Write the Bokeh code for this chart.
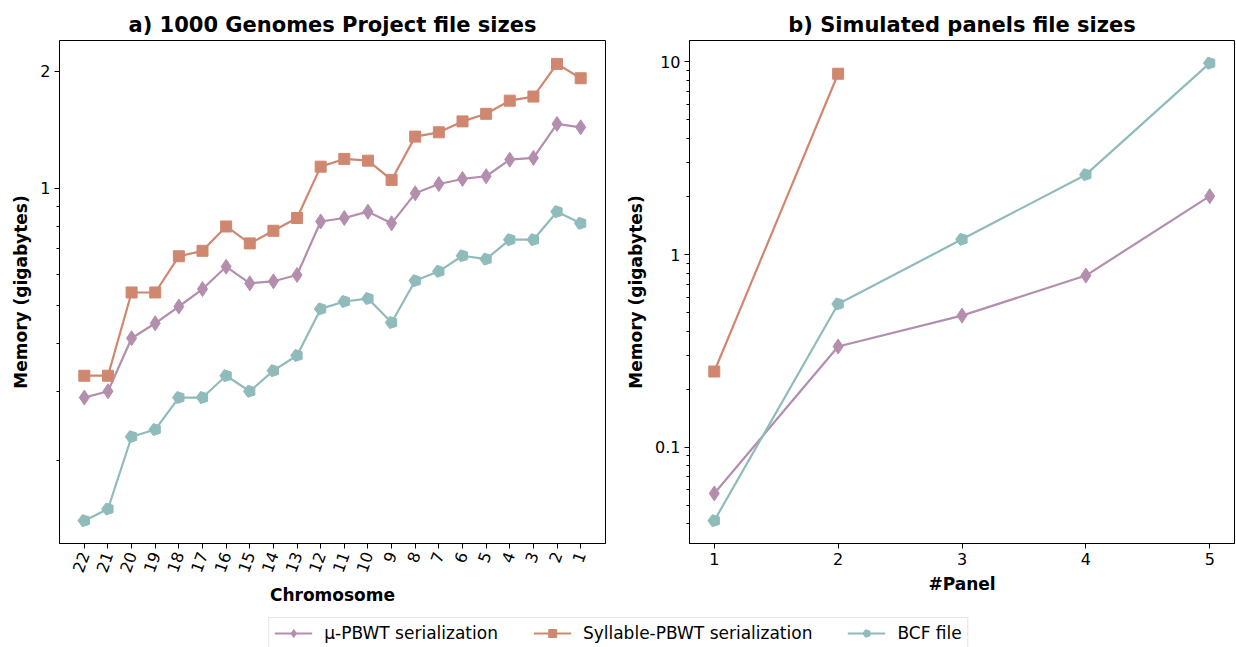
import numpy as np
from bokeh.plotting import figure
from bokeh.models import (FixedTicker, Range1d, Legend, LegendItem, BasicTickFormatter)
from bokeh.layouts import column, row
from bokeh.embed import file_html
from bokeh.resources import INLINE
from bokeh.core.properties import value

# ---------------- data ----------------
chromosomes = ["22", "21", "20", "19", "18", "17", "16", "15", "14", "13", "12",
               "11", "10", "9", "8", "7", "6", "5", "4", "3", "2", "1"]
mu_pbwt_1000g = [0.290, 0.301, 0.412, 0.450, 0.497, 0.551, 0.629, 0.570, 0.577, 0.599, 0.822,
                 0.839, 0.871, 0.813, 0.971, 1.026, 1.057, 1.074, 1.185, 1.197, 1.464, 1.435]
syllable_1000g = [0.330, 0.330, 0.540, 0.540, 0.669, 0.691, 0.798, 0.722, 0.778, 0.839, 1.137,
                  1.190, 1.178, 1.051, 1.358, 1.393, 1.486, 1.554, 1.680, 1.721, 2.088, 1.918]
bcf_1000g = [0.140, 0.150, 0.230, 0.240, 0.290, 0.290, 0.330, 0.301, 0.340, 0.372, 0.490,
             0.512, 0.521, 0.452, 0.579, 0.612, 0.671, 0.658, 0.738, 0.738, 0.871, 0.813]

panels = [1, 2, 3, 4, 5]
mu_pbwt_sim = [0.0575, 0.333, 0.482, 0.778, 2.01]
syllable_panels = [1, 2]
syllable_sim = [0.247, 8.69]
bcf_sim = [0.0415, 0.554, 1.20, 2.60, 9.86]

labels = ["μ-PBWT serialization", "Syllable-PBWT serialization", "BCF file"]

PURPLE = "#b48ead"
ORANGE = "#d08770"
TEAL = "#8fbcbb"
FONT = "DejaVu Sans"


def style(p, title):
    p.title.text = title
    p.title.align = "center"
    p.title.text_font = FONT
    p.title.text_font_size = "21px"
    p.title.text_font_style = "bold"
    p.title.text_color = "black"
    p.title.standoff = 7
    p.xgrid.visible = False
    p.ygrid.visible = False
    p.outline_line_color = "black"
    p.outline_line_width = 1
    p.outline_line_alpha = 1
    for ax in (p.xaxis[0], p.yaxis[0]):
        ax.axis_line_color = "black"
        ax.major_tick_line_color = "black"
        ax.minor_tick_line_color = "black"
        ax.major_tick_in = 0
        ax.major_tick_out = 5
        ax.minor_tick_in = 0
        ax.minor_tick_out = 3
        ax.major_label_text_font = FONT
        ax.major_label_text_font_size = "16px"
        ax.major_label_text_color = "black"
        ax.axis_label_text_font = FONT
        ax.axis_label_text_font_size = "17px"
        ax.axis_label_text_font_style = "bold"
        ax.axis_label_text_color = "black"
        ax.axis_label_standoff = 6
        ax.major_label_standoff = 4


def draw(p, x, y, color, kind):
    r_line = p.line(x, y, line_color=color, line_width=2.2)
    if kind == "diamond":
        r_m = p.scatter(x, y, marker="diamond", size=15, fill_color=color, line_color=color)
    elif kind == "square":
        r_m = p.scatter(x, y, marker="square", size=11, fill_color=color, line_color=color)
    else:
        r_m = p.ngon(x=x, y=y, radius=6.3, radius_units="screen", n=5, angle=np.pi / 2,
                     fill_color=color, line_color=color)
    return [r_line, r_m]


# ---------------- left panel ----------------
xi = list(range(len(chromosomes)))
p1 = figure(width=615, height=611, x_range=Range1d(-1.05, 22.05),
            y_range=Range1d(0.1223, 2.398), y_axis_type="log",
            output_backend="svg", toolbar_location=None)
style(p1, "a) 1000 Genomes Project file sizes")
p1.min_border_left = 59
p1.min_border_right = 10
p1.min_border_top = 40
p1.min_border_bottom = 68
p1.xaxis.ticker = FixedTicker(ticks=xi, minor_ticks=[])
p1.xaxis.major_label_overrides = {i: c for i, c in enumerate(chromosomes)}
p1.xaxis.major_label_orientation = np.deg2rad(70)
p1.xaxis.axis_label = "Chromosome"
p1.yaxis.ticker = FixedTicker(ticks=[1, 2], minor_ticks=[0.2, 0.3, 0.4, 0.5, 0.6, 0.7, 0.8, 0.9])
p1.yaxis.formatter = BasicTickFormatter()
p1.yaxis.axis_label = "Memory (gigabytes)"

draw(p1, xi, mu_pbwt_1000g, PURPLE, "diamond")
draw(p1, xi, syllable_1000g, ORANGE, "square")
draw(p1, xi, bcf_1000g, TEAL, "pentagon")

# ---------------- right panel ----------------
p2 = figure(width=621, height=611, x_range=Range1d(0.8, 5.2),
            y_range=Range1d(0.0316, 12.93), y_axis_type="log",
            output_backend="svg", toolbar_location=None)
style(p2, "b) Simulated panels file sizes")
p2.min_border_left = 74
p2.min_border_right = 2
p2.min_border_top = 40
p2.min_border_bottom = 68
p2.xaxis.ticker = FixedTicker(ticks=panels, minor_ticks=[])
p2.xaxis.axis_label = "#Panel"
p2.yaxis.ticker = FixedTicker(ticks=[0.1, 1, 10],
                              minor_ticks=[0.04, 0.05, 0.06, 0.07, 0.08, 0.09,
                                           0.2, 0.3, 0.4, 0.5, 0.6, 0.7, 0.8, 0.9,
                                           2, 3, 4, 5, 6, 7, 8, 9])
p2.yaxis.formatter = BasicTickFormatter()
p2.yaxis.axis_label = "Memory (gigabytes)"

draw(p2, panels, mu_pbwt_sim, PURPLE, "diamond")
draw(p2, syllable_panels, syllable_sim, ORANGE, "square")
draw(p2, panels, bcf_sim, TEAL, "pentagon")

# ---------------- shared legend ----------------
lg = figure(width=1236, height=36, x_range=Range1d(0, 1), y_range=Range1d(0, 1),
            x_axis_location=None, y_axis_location=None,
            output_backend="svg", toolbar_location=None)
lg.min_border = 0
lg.outline_line_color = None
lg.xgrid.visible = False
lg.ygrid.visible = False
off = [5.0, 6.0]
items = []
for lab, col, kind in zip(labels, [PURPLE, ORANGE, TEAL], ["diamond", "square", "pentagon"]):
    rs = draw(lg, off, off, col, kind)
    items.append(LegendItem(label=lab, renderers=rs))
legend = Legend(items=items, orientation="horizontal", location="top_center")
legend.label_text_font = FONT
legend.label_text_font_size = "17px"
legend.label_text_color = "black"
legend.border_line_color = "#cccccc"
legend.border_line_width = 1
legend.padding = 5
legend.spacing = 35
legend.glyph_width = 38
legend.glyph_height = 20
legend.label_height = 20
legend.label_standoff = 12
legend.margin = 6
lg.add_layout(legend, "center")

layout = column(row(p1, p2), lg)
open("out.html", "w").write(file_html(layout, INLINE))
